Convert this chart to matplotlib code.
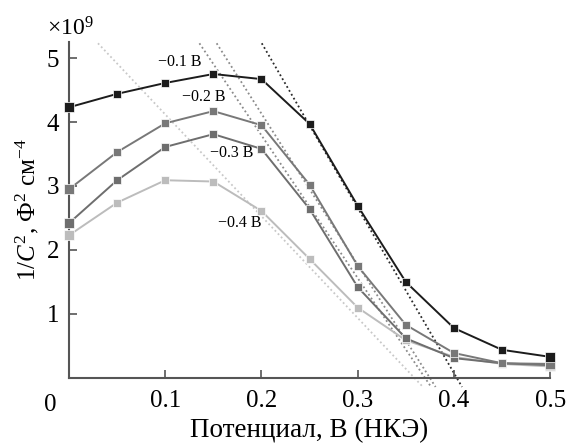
import matplotlib.pyplot as plt
import numpy as np

# потенциал, В
potential = [0.0, 0.05, 0.1, 0.15, 0.2, 0.25, 0.3, 0.35, 0.4, 0.45, 0.5]

# 1/C^2, x10^9
inv_c2_01 = [4.23, 4.44, 4.61, 4.75, 4.67, 3.97, 2.69, 1.50, 0.78, 0.44, 0.33]
inv_c2_02 = [2.95, 3.53, 3.98, 4.17, 3.95, 3.02, 1.75, 0.83, 0.39, 0.23, 0.22]
inv_c2_03 = [2.42, 3.09, 3.61, 3.81, 3.58, 2.64, 1.42, 0.62, 0.31, 0.23, 0.20]
inv_c2_04 = [2.23, 2.74, 3.09, 3.07, 2.61, 1.86, 1.10, 0.59, 0.33, 0.22, 0.18]

series_labels = ["\u22120.1 В", "\u22120.2 В", "\u22120.3 В", "\u22120.4 В"]

# касательные: точка пересечения с осью и наклон
tangent_x0 = [0.403, 0.375, 0.370, 0.359]
tangent_slope = [-25.8, -23.6, -22.3, -15.9]

plt.rcParams['font.family'] = ['Liberation Serif', 'DejaVu Serif']
plt.rcParams['mathtext.fontset'] = 'custom'
plt.rcParams['mathtext.rm'] = 'Liberation Serif'
plt.rcParams['mathtext.it'] = 'Liberation Serif:italic'

colors = ["#1c1c1c", "#787878", "#6e6e6e", "#bcbcbc"]
dot_colors = ["#2a2a2a", "#8a8a8a", "#8a8a8a", "#c8c8c8"]
label_pos = [(0.115, 4.94), (0.14, 4.39), (0.169, 3.51), (0.177, 2.42)]

fig = plt.figure(figsize=(5.66, 4.45), dpi=100)
ax = fig.add_axes([0.122, 0.1506, 0.85, 0.755])

series = [inv_c2_01, inv_c2_02, inv_c2_03, inv_c2_04]
y_top, y_bot = 5.23, -0.14

# касательные (пунктир)
for x0, k, c in zip(tangent_x0, tangent_slope, dot_colors):
    xs = np.array([x0 + y_top / k, x0 + y_bot / k])
    ax.plot(xs, k * (xs - x0), ls=(0, (1, 1.5)), lw=1.3, color=c,
            clip_on=False, zorder=1)

for ys, c in reversed(list(zip(series, colors))):
    ax.plot(potential, ys, color=c, lw=1.4, marker='s', ms=5.2,
            mfc=c, mec='white', mew=0.5, zorder=3, clip_on=False)
    ax.plot([potential[0], potential[-1]], [ys[0], ys[-1]], ls='none',
            marker='s', ms=7.2, mfc=c, mec='white', mew=0.5, zorder=4,
            clip_on=False)

for (lx, ly), lab in zip(label_pos, series_labels):
    ax.text(lx, ly, lab, fontsize=11.5, ha='center', va='center', zorder=5)

ax.set_xlim(0, 0.5)
ax.set_ylim(0, 5.25)
ax.set_xticks([0.1, 0.2, 0.3, 0.4, 0.5])
ax.set_xticklabels(["0.1", "0.2", "0.3", "0.4", "0.5"])
ax.set_yticks([1, 2, 3, 4, 5])
ax.tick_params(direction='in', length=6, width=1.2, labelsize=18,
               color="#555555", pad=7)
ax.tick_params(axis='x', pad=9)
for s in ['top', 'right']:
    ax.spines[s].set_visible(False)
for s in ['left', 'bottom']:
    ax.spines[s].set_color("#555555")
    ax.spines[s].set_linewidth(1.5)

ax.text(-0.02, -0.25, "0", fontsize=18, ha='center', va='top')
ax.set_xlabel("Потенциал, В (НКЭ)", fontsize=19.5, labelpad=4)
ax.set_ylabel(r"1/$C^2$, Ф$^2$ см$^{-4}$", fontsize=18, labelpad=4)
fig.text(0.124, 0.935, r"$\times$10$^9$", fontsize=17, ha='center',
         va='center')

fig.savefig("out.png", dpi=100)
